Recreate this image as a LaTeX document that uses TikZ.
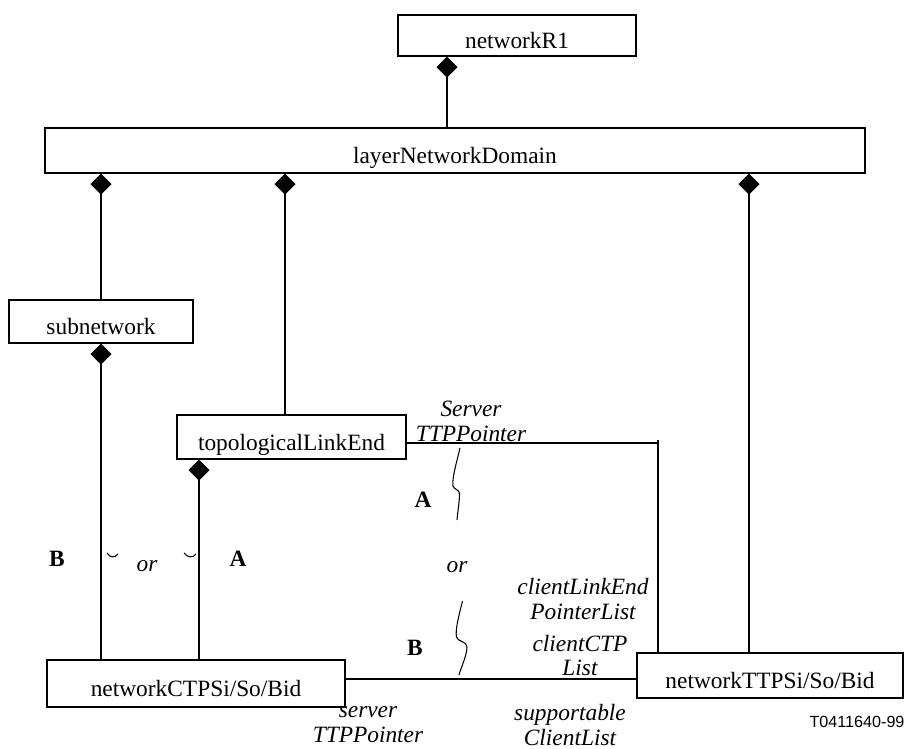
\documentclass[tikz,border=0pt]{standalone}
\usepackage{fontspec}
\setmainfont{Liberation Serif}
\newfontfamily\tagfont{Liberation Sans}
\usepackage{tikz}
\usetikzlibrary{arrows.meta}
\tikzset{
block/.style = {draw, line width=0.6pt, inner xsep=2pt, inner ysep=0.04cm,
                text height=0.6cm, text depth=0.08cm,
                font=\fontsize{13.3}{15}\selectfont},
tmp/.style  = {coordinate},
comp/.style = {{Diamond[length=0.42cm,width=0.42cm]}-},
lbl/.style  = {inner sep=0pt, align=center,
               font=\fontsize{13.3}{14.2}\selectfont\itshape},
tag/.style  = {inner sep=0pt, font=\fontsize{13.3}{15}\selectfont\bfseries},
brk/.style  = {line width=0.6pt}
}

\begin{document}
\begin{tikzpicture}[auto, node distance=2cm, line width=0.6pt]
    \useasboundingbox (0,0) rectangle (18.12,-14.98);

    \node [block, name=r1, minimum width=4.76cm, minimum height=0.82cm]
        at (10.34,-0.71) (r1) {networkR1};
    \node [block, name=lnd, minimum width=16.40cm, minimum height=0.90cm]
        at (9.10,-3.01) (lnd) {layerNetworkDomain};
    \node [block, name=sub, minimum width=3.68cm, minimum height=0.86cm]
        at (2.02,-6.43) (sub) {subnetwork};
    \node [block, name=tle, minimum width=4.58cm, minimum height=0.88cm]
        at (5.83,-8.74) (tle) {topologicalLinkEnd};
    \node [block, name=ctp, minimum width=5.96cm, minimum height=0.94cm]
        at (3.92,-13.67) (ctp) {networkCTPSi/So/Bid};
    \node [block, name=ttp, minimum width=5.32cm, minimum height=0.90cm]
        at (15.40,-13.51) (ttp) {networkTTPSi/So/Bid};

    % containment
    \draw [comp] (r1.south -| 8.94,0) -- (lnd.north -| 8.94,0);
    \draw [comp] (lnd.south -| sub) -- (sub.north);
    \draw [comp] (lnd.south -| 5.70,0) -- (tle.north -| 5.70,0);
    \draw [comp] (lnd.south -| 14.98,0) -- (ttp.north -| 14.98,0);
    \draw [comp] (sub.south) -- (sub.south |- ctp.north);
    \draw [comp] (tle.south -| 3.98,0) -- (ctp.north -| 3.98,0);

    % pointers
    \node [tmp, name=bend] (bend) at (13.16,-8.86) {};
    \node [tmp, name=mid] (mid) at (9.20,-13.58) {};
    \draw (tle.east |- bend) -- (bend);
    \draw ([yshift=0.06cm]bend) -- (ttp.north -| bend);
    \draw (ctp.east |- mid) -- (ttp.west |- mid);

    % breaks
    \draw [brk] (9.20,-8.96) .. controls (9.12,-9.30) and (9.04,-9.55) .. (9.06,-9.72)
        .. controls (9.08,-9.80) and (9.19,-9.78) .. (9.19,-9.88)
        .. controls (9.19,-10.05) and (9.15,-10.25) .. (9.14,-10.40);
    \draw [brk] (9.25,-12.02) .. controls (9.18,-12.30) and (9.10,-12.60) .. (9.13,-12.74)
        .. controls (9.15,-12.84) and (9.34,-12.82) .. (9.34,-12.94)
        .. controls (9.34,-13.10) and (9.22,-13.35) .. (9.18,-13.50);
    \draw [brk] (2.14,-11.06) .. controls (2.20,-11.16) and (2.30,-11.16) .. (2.36,-11.08);
    \draw [brk] (3.68,-11.06) .. controls (3.76,-11.16) and (3.86,-11.16) .. (3.92,-11.08);

    % labels
    \node [lbl, name=srvptr] at (9.42,-8.42) (srvptr) {Server\\TTPPointer};
    \node [lbl, name=cleptr] at (11.66,-11.98) (cleptr) {clientLinkEnd\\PointerList};
    \node [lbl, name=cctp] at (11.60,-13.11) (cctp) {clientCTP\\List};
    \node [lbl, name=sttp] at (7.36,-14.50) (sttp) {server\\TTPPointer};
    \node [lbl, name=supcl] at (11.40,-14.50) (supcl) {supportable\\ClientList};
    \node [lbl, name=or1] at (2.94,-11.32) (or1) {or};
    \node [lbl, name=or2] at (9.14,-11.34) (or2) {or};

    \node [tag, name=a1] at (4.76,-11.18) (a1) {A};
    \node [tag, name=b1] at (1.14,-11.18) (b1) {B};
    \node [tag, name=a2] at (8.46,-10.00) (a2) {A};
    \node [tag, name=b2] at (8.30,-12.96) (b2) {B};

    \node [inner sep=0pt, font=\tagfont\fontsize{9.2}{11}\selectfont, name=fig]
        at (17.14,-14.44) (fig) {T0411640-99};
\end{tikzpicture}
\end{document}
